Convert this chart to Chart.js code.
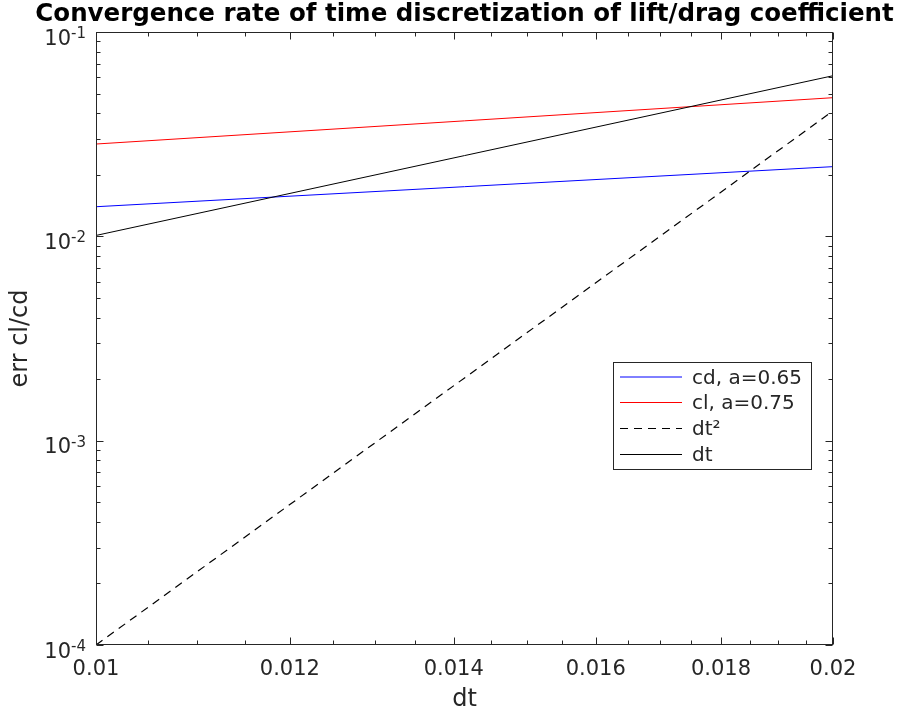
<!DOCTYPE html>
<html><head><meta charset="utf-8">
<script src="https://cdn.jsdelivr.net/npm/chart.js@4/dist/chart.umd.min.js"></script>
<style>html,body{margin:0;padding:0;background:#fff}#wrap{width:903px;height:715px;position:relative}</style>
</head><body><div id="wrap"><canvas id="c" width="903" height="715"></canvas></div>
<script>
// ---- data ----
const dtValues = [0.01, 0.02];
const cdErr   = [0.01396, 0.02193];
const clErr   = [0.0283, 0.0477];
const dt2Ref  = [0.0001, 0.0411];
const dtRef   = [0.0101, 0.0611];
const seriesNames = ['cd, a=0.65', 'cl, a=0.75', 'dt²', 'dt'];
const titleText = 'Convergence rate of time discretization of lift/drag coefficient';
const xLabel = 'dt';
const yLabel = 'err cl/cd';
const xMajorTicks = [0.01, 0.012, 0.014, 0.016, 0.018, 0.02];
const xTickLabels = ['0.01', '0.012', '0.014', '0.016', '0.018', '0.02'];
const xMinorTicks = [0.0105, 0.011, 0.0115, 0.0125, 0.013, 0.0135, 0.0145, 0.015, 0.0155, 0.0165, 0.017, 0.0175, 0.0185, 0.019, 0.0195];
const yMajorTicks = [0.0001, 0.001, 0.01, 0.1];
const yTickBase = '10';
const yTickExponents = ['-4', '-3', '-2', '-1'];
const yMinorTicks = [0.0002, 0.0003, 0.0004, 0.0005, 0.0006, 0.0007, 0.0008, 0.0009,
                     0.002, 0.003, 0.004, 0.005, 0.006, 0.007, 0.008, 0.009,
                     0.02, 0.03, 0.04, 0.05, 0.06, 0.07, 0.08, 0.09];

const TXT = '#262626';
const FONT = '"DejaVu Sans", "Liberation Sans", sans-serif';
const pts = arr => dtValues.map((x, i) => ({x: x, y: arr[i]}));

const deco = {
  id: 'deco',
  afterDraw(chart) {
    const {ctx, chartArea: a, scales: {x, y}} = chart;
    ctx.save();
    ctx.strokeStyle = TXT; ctx.lineWidth = 1;
    const L = Math.round(a.left) + 0.5, R = Math.round(a.right) - 0.5;
    const T = Math.round(a.top) + 0.5, B = Math.round(a.bottom) - 0.5;
    ctx.strokeRect(L, T, R - L, B - T);
    ctx.beginPath();
    const xt = (v, len) => { const p = Math.round(x.getPixelForValue(v)) + 0.5;
      ctx.moveTo(p, B); ctx.lineTo(p, B - len); ctx.moveTo(p, T); ctx.lineTo(p, T + len); };
    const yt = (v, len) => { const p = Math.round(y.getPixelForValue(v)) + 0.5;
      ctx.moveTo(L, p); ctx.lineTo(L + len, p); ctx.moveTo(R, p); ctx.lineTo(R - len, p); };
    xMajorTicks.forEach(v => xt(v, 7)); xMinorTicks.forEach(v => xt(v, 4));
    yMajorTicks.forEach(v => yt(v, 7)); yMinorTicks.forEach(v => yt(v, 4));
    ctx.stroke();

    ctx.fillStyle = TXT;
    // x tick labels
    ctx.font = '21px ' + FONT; ctx.textAlign = 'center'; ctx.textBaseline = 'alphabetic';
    xMajorTicks.forEach((v, i) => ctx.fillText(xTickLabels[i], x.getPixelForValue(v), 675));
    // y tick labels with superscript
    yMajorTicks.forEach((v, i) => {
      const p = y.getPixelForValue(v);
      ctx.font = '15px ' + FONT; ctx.textAlign = 'right';
      const wE = ctx.measureText(yTickExponents[i]).width;
      ctx.fillText(yTickExponents[i], 86, p + 6);
      ctx.font = '21px ' + FONT;
      ctx.fillText(yTickBase, 86 - wE, p + 12.5);
    });
    // axis labels
    ctx.font = '24px ' + FONT; ctx.textAlign = 'center';
    ctx.fillText(xLabel, (a.left + a.right) / 2, 706);
    ctx.save(); ctx.translate(27, (a.top + a.bottom) / 2); ctx.rotate(-Math.PI / 2);
    ctx.fillText(yLabel, 0, 0); ctx.restore();
    // title
    ctx.font = 'bold 24.5px ' + FONT;
    ctx.fillStyle = '#000';
    ctx.fillText(titleText, (a.left + a.right) / 2, 21);

    // legend
    const lx = 613.5, ly = 362.5, lw = 198, lh = 107;
    ctx.fillStyle = '#fff'; ctx.fillRect(lx, ly, lw, lh);
    ctx.strokeStyle = TXT; ctx.strokeRect(lx, ly, lw, lh);
    const rows = [377, 402.5, 428.5, 454.5];
    chart.data.datasets.forEach((ds, i) => {
      ctx.beginPath(); ctx.strokeStyle = ds.borderColor; ctx.lineWidth = ds.borderWidth;
      ctx.setLineDash(ds.borderDash || []);
      ctx.moveTo(620, rows[i]); ctx.lineTo(682, rows[i]); ctx.stroke();
      ctx.setLineDash([]);
      ctx.fillStyle = TXT; ctx.font = '20px ' + FONT; ctx.textAlign = 'left';
      ctx.fillText(ds.label, 692, rows[i] + 6.5);
    });
    ctx.restore();
  }
};

new Chart(document.getElementById('c'), {
  type: 'line',
  data: {
    datasets: [
      {label: seriesNames[0], data: pts(cdErr), borderColor: '#0000ff', borderWidth: 1, order: 4},
      {label: seriesNames[1], data: pts(clErr), borderColor: '#ff0000', borderWidth: 1, order: 3},
      {label: seriesNames[2], data: pts(dt2Ref), borderColor: '#000000', borderWidth: 1.2, borderDash: [8, 6], order: 2},
      {label: seriesNames[3], data: pts(dtRef), borderColor: '#000000', borderWidth: 1, order: 1}
    ]
  },
  options: {
    responsive: false, animation: false, devicePixelRatio: 1,
    layout: {padding: {left: 0, right: 70, top: 32, bottom: 0}},
    elements: {point: {radius: 0}, line: {tension: 0}},
    plugins: {legend: {display: false}, tooltip: {enabled: false}, title: {display: false}},
    scales: {
      x: {type: 'logarithmic', min: 0.01, max: 0.02,
          grid: {display: false}, border: {display: false}, ticks: {display: false},
          afterFit: s => { s.height = 70; }},
      y: {type: 'logarithmic', min: 0.0001, max: 0.1,
          grid: {display: false}, border: {display: false}, ticks: {display: false},
          afterFit: s => { s.width = 96; }}
    }
  },
  plugins: [deco]
});
</script></body></html>
